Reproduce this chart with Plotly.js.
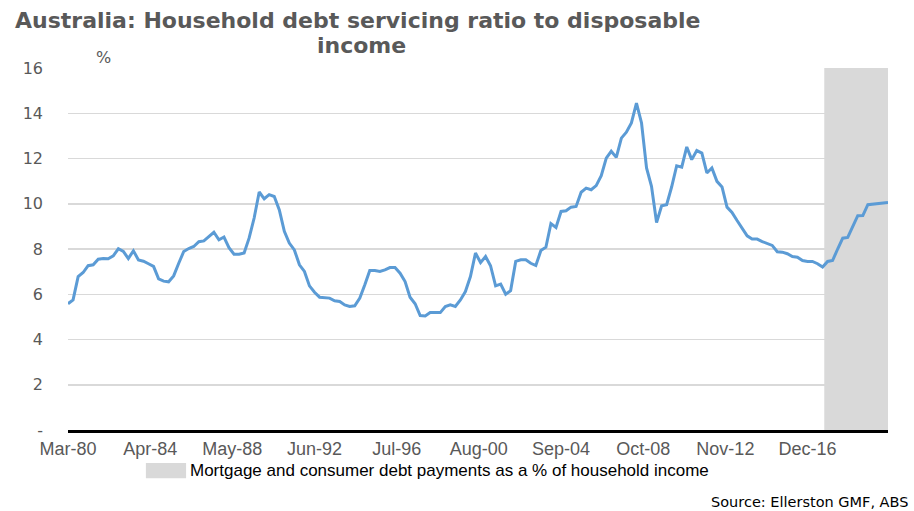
<!DOCTYPE html>
<html>
<head>
<meta charset="utf-8">
<script src="https://cdn.plot.ly/plotly-3.0.1.min.js"></script>
<style>
  html, body { margin: 0; padding: 0; background: #ffffff; }
  #chart { width: 914px; height: 511px; }
</style>
</head>
<body>
<div id="chart"></div>
<script>
// Quarterly household debt servicing ratio (%), first quarter = Mar-1980
const startYear = 1980;
const startMonth = 3; // March
const ratioValues = [
  5.58, 5.75, 6.78, 6.96, 7.26, 7.30, 7.55, 7.58, 7.57, 7.70,
  8.01, 7.89, 7.58, 7.92, 7.52, 7.46, 7.35, 7.23, 6.68, 6.58,
  6.55, 6.81, 7.37, 7.89, 8.02, 8.11, 8.32, 8.36, 8.55, 8.74,
  8.41, 8.53, 8.06, 7.77, 7.77, 7.82, 8.48, 9.37, 10.52, 10.22,
  10.40, 10.32, 9.73, 8.78, 8.26, 7.96, 7.30, 7.01, 6.37, 6.09,
  5.87, 5.85, 5.83, 5.71, 5.68, 5.53, 5.46, 5.49, 5.83, 6.42,
  7.05, 7.05, 7.01, 7.08, 7.18, 7.18, 6.93, 6.56, 5.87, 5.58,
  5.06, 5.04, 5.19, 5.19, 5.19, 5.46, 5.53, 5.46, 5.75, 6.12,
  6.78, 7.82, 7.40, 7.67, 7.26, 6.37, 6.45, 6.00, 6.16, 7.45,
  7.52, 7.52, 7.37, 7.27, 7.93, 8.08, 9.12, 8.95, 9.66, 9.69,
  9.85, 9.88, 10.51, 10.69, 10.62, 10.80, 11.24, 12.02, 12.32, 12.05,
  12.90, 13.16, 13.57, 14.45, 13.57, 11.58, 10.77, 9.17, 9.91, 9.96,
  10.74, 11.68, 11.62, 12.51, 11.95, 12.35, 12.24, 11.36, 11.58, 10.99,
  10.74, 9.85, 9.62, 9.26, 8.92, 8.58, 8.44, 8.44, 8.33, 8.26,
  8.16, 7.88, 7.86, 7.79, 7.67, 7.64, 7.49, 7.45, 7.45, 7.35,
  7.20, 7.45, 7.49, 8.00, 8.48, 8.51, 8.97, 9.47, 9.48, 9.96,
  null, null, null, 10.06
];
const tickDates = ['1980-03-01','1984-04-01','1988-05-01','1992-06-01','1996-07-01',
                   '2000-08-01','2004-09-01','2008-10-01','2012-11-01','2016-12-01'];
const tickLabels = ['Mar-80','Apr-84','May-88','Jun-92','Jul-96',
                    'Aug-00','Sep-04','Oct-08','Nov-12','Dec-16'];
const yTickVals = [0, 2, 4, 6, 8, 10, 12, 14, 16];
const yTickLabels = ['-', '2', '4', '6', '8', '10', '12', '14', '16'];
const forecastStart = '2017-10-01';
const rangeStart = '1980-03-01';
const rangeEnd = '2020-12-01';
const titleLine1 = 'Australia: Household debt servicing ratio to disposable';
const titleLine2 = 'income';
const yUnit = '%';
const seriesName = 'Mortgage and consumer debt payments as a % of household income';
const sourceText = 'Source: Ellerston GMF, ABS';

function quarterDate(i) {
  const m0 = (startMonth - 1) + 3 * i;
  const y = startYear + Math.floor(m0 / 12);
  const m = (m0 % 12) + 1;
  return y + '-' + String(m).padStart(2, '0') + '-01';
}
const ratioDates = ratioValues.map((_, i) => quarterDate(i));

const trace = {
  x: ratioDates,
  y: ratioValues,
  type: 'scatter',
  mode: 'lines',
  connectgaps: true,
  name: seriesName,
  line: { color: '#5B9BD5', width: 3 },
  hoverinfo: 'x+y',
  showlegend: false
};

const gray = '#595959';
const verdanaLike = 'DejaVu Sans, Verdana, sans-serif';
const layout = {
  width: 914,
  height: 511,
  margin: { l: 68, r: 26, t: 68, b: 81 },
  paper_bgcolor: '#ffffff',
  plot_bgcolor: '#ffffff',
  showlegend: false,
  xaxis: {
    type: 'date',
    range: [rangeStart, rangeEnd],
    tickvals: tickDates,
    ticktext: tickLabels,
    showgrid: false,
    showline: true,
    linecolor: '#000000',
    linewidth: 3,
    ticks: '',
    tickfont: { family: 'Liberation Sans, Arial, sans-serif', size: 18, color: gray },
    zeroline: false,
    fixedrange: true
  },
  yaxis: {
    range: [0, 16],
    tickvals: yTickVals,
    ticktext: yTickLabels,
    showgrid: true,
    gridcolor: '#d9d9d9',
    gridwidth: 1.5,
    showline: false,
    zeroline: false,
    ticks: '',
    ticklabelstandoff: 24,
    tickfont: { family: verdanaLike, size: 16, color: gray },
    fixedrange: true
  },
  shapes: [
    {
      type: 'rect', xref: 'x', yref: 'paper',
      x0: forecastStart, x1: rangeEnd, y0: 0, y1: 1,
      fillcolor: '#d9d9d9', line: { width: 0 }, layer: 'between'
    },
    {
      type: 'rect', xref: 'paper', yref: 'paper',
      x0: 0.095, x1: 0.144, y0: -0.133, y1: -0.091,
      fillcolor: '#d9d9d9', line: { width: 0 }
    }
  ],
  annotations: [
    {
      text: '<b>' + titleLine1 + '</b>', xref: 'paper', yref: 'paper', x: 0.3537, y: 1.130,
      xanchor: 'center', yanchor: 'middle', showarrow: false,
      font: { family: verdanaLike, size: 22, color: gray }
    },
    {
      text: '<b>' + titleLine2 + '</b>', xref: 'paper', yref: 'paper', x: 0.3585, y: 1.0635,
      xanchor: 'center', yanchor: 'middle', showarrow: false,
      font: { family: verdanaLike, size: 22, color: gray }
    },
    {
      text: yUnit, xref: 'paper', yref: 'paper', x: 0.043, y: 1.03,
      xanchor: 'center', yanchor: 'middle', showarrow: false,
      font: { family: verdanaLike, size: 16, color: gray }
    },
    {
      text: seriesName, xref: 'paper', yref: 'paper', x: 0.146, y: -0.112,
      xanchor: 'left', yanchor: 'middle', showarrow: false,
      font: { family: 'Liberation Sans, Arial, sans-serif', size: 17, color: '#000000' }
    },
    {
      text: sourceText, xref: 'paper', yref: 'paper', x: 1.027, y: -0.199,
      xanchor: 'right', yanchor: 'middle', showarrow: false,
      font: { family: verdanaLike, size: 14.5, color: '#000000' }
    }
  ]
};

Plotly.newPlot('chart', [trace], layout, { displayModeBar: false, staticPlot: true });
</script>
</body>
</html>
